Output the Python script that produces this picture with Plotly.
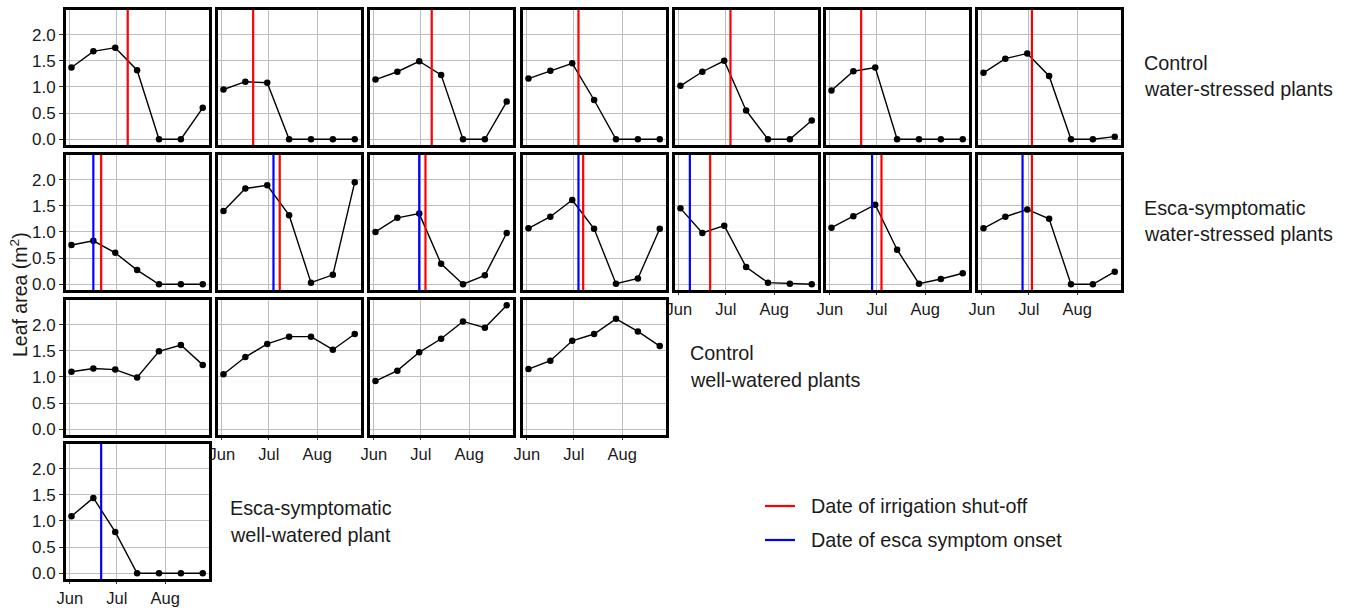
import plotly.graph_objects as go

# ---------------- data ----------------
dates = ["2021-06-02", "2021-06-16", "2021-06-30", "2021-07-14",
         "2021-07-28", "2021-08-11", "2021-08-25"]

# Control water-stressed plants (7 plants)
ctrl_ws = [
    [1.37, 1.68, 1.75, 1.32, 0.00, 0.00, 0.60],
    [0.95, 1.10, 1.08, 0.00, 0.00, 0.00, 0.00],
    [1.14, 1.29, 1.49, 1.23, 0.00, 0.00, 0.72],
    [1.16, 1.31, 1.45, 0.75, 0.00, 0.00, 0.00],
    [1.02, 1.29, 1.50, 0.55, 0.00, 0.00, 0.36],
    [0.93, 1.30, 1.37, 0.00, 0.00, 0.00, 0.00],
    [1.27, 1.54, 1.64, 1.21, 0.00, 0.00, 0.05],
]
ctrl_ws_shutoff = ["2021-07-08", "2021-06-21", "2021-07-08", "2021-07-04",
                   "2021-07-04", "2021-06-21", "2021-07-03"]

# Esca-symptomatic water-stressed plants (7 plants)
esca_ws = [
    [0.75, 0.83, 0.60, 0.27, 0.00, 0.00, 0.00],
    [1.40, 1.83, 1.89, 1.32, 0.03, 0.18, 1.95],
    [1.00, 1.27, 1.35, 0.39, 0.00, 0.17, 0.98],
    [1.07, 1.29, 1.61, 1.06, 0.01, 0.11, 1.06],
    [1.45, 0.98, 1.12, 0.33, 0.03, 0.01, 0.00],
    [1.08, 1.30, 1.52, 0.66, 0.01, 0.10, 0.21],
    [1.07, 1.29, 1.43, 1.25, 0.00, 0.00, 0.24],
]
esca_ws_shutoff = ["2021-06-21", "2021-07-08", "2021-07-04", "2021-07-07",
                   "2021-06-21", "2021-07-04", "2021-07-03"]
esca_ws_onset = ["2021-06-16", "2021-07-04", "2021-06-30", "2021-07-04",
                 "2021-06-08", "2021-06-28", "2021-06-27"]

# Control well-watered plants (4 plants)
ctrl_ww = [
    [1.10, 1.16, 1.14, 0.99, 1.49, 1.61, 1.23],
    [1.05, 1.38, 1.63, 1.77, 1.77, 1.52, 1.82],
    [0.92, 1.12, 1.47, 1.73, 2.06, 1.94, 2.37],
    [1.15, 1.31, 1.69, 1.82, 2.11, 1.87, 1.59],
]

# Esca-symptomatic well-watered plant (1 plant)
esca_ww = [[1.09, 1.44, 0.79, 0.00, 0.00, 0.00, 0.00]]
esca_ww_onset = ["2021-06-21"]

month_ticks = ["2021-06-01", "2021-07-01", "2021-08-01"]
month_labels = ["Jun", "Jul", "Aug"]
y_ticks = [0, 0.5, 1.0, 1.5, 2.0]
y_labels = ["0.0", "0.5", "1.0", "1.5", "2.0"]

group_labels = [
    ("Control", "water-stressed plants"),
    ("Esca-symptomatic", "water-stressed plants"),
    ("Control", "well-watered plants"),
    ("Esca-symptomatic", "well-watered plant"),
]
legend_labels = ["Date of irrigation shut-off", "Date of esca symptom onset"]

# ---------------- layout helpers ----------------
W, H = 1359, 608
RED, BLUE = "#ff0000", "#0000ff"
FONT = "Liberation Sans, Arial, sans-serif"
col_left = [66, 218, 370, 523, 675, 826, 978]
row_top = [10, 155, 300, 444]
PW, PH = 143, 135
X_RANGE = ["2021-05-29 12:00", "2021-08-29 00:00"]
Y_RANGE = [-0.11, 2.47]


def px(x):
    return x / W


def py(y):
    return 1 - y / H


panels = []  # (row, col, values, shutoff, onset)
for i, v in enumerate(ctrl_ws):
    panels.append((0, i, v, ctrl_ws_shutoff[i], None))
for i, v in enumerate(esca_ws):
    panels.append((1, i, v, esca_ws_shutoff[i], esca_ws_onset[i]))
for i, v in enumerate(ctrl_ww):
    panels.append((2, i, v, None, None))
for i, v in enumerate(esca_ww):
    panels.append((3, i, v, None, esca_ww_onset[i]))

# which panels show x tick labels (bottom of each column)
xlabel_panels = {(1, 4), (1, 5), (1, 6), (2, 1), (2, 2), (2, 3), (3, 0)}

fig = go.Figure()
layout = dict(
    width=W, height=H,
    margin=dict(l=0, r=0, t=0, b=0),
    paper_bgcolor="white", plot_bgcolor="white",
    showlegend=False,
    font=dict(family=FONT, color="#1a1a1a"),
)
shapes = []
annotations = []

for k, (r, c, vals, shut, onset) in enumerate(panels, start=1):
    xa = "x" if k == 1 else f"x{k}"
    ya = "y" if k == 1 else f"y{k}"
    x0 = col_left[c]
    y0 = row_top[r]
    show_x = (r, c) in xlabel_panels
    show_y = c == 0
    layout["xaxis" if k == 1 else f"xaxis{k}"] = dict(
        domain=[px(x0), px(x0 + PW)],
        anchor=ya, type="date", range=X_RANGE,
        tickvals=month_ticks, ticktext=month_labels,
        showticklabels=show_x, ticks="outside" if show_x else "",
        ticklen=2, tickcolor="#333333", tickwidth=1,
        tickfont=dict(size=16.5, color="#1a1a1a", family=FONT),
        showgrid=True, gridcolor="#bdbdbd", gridwidth=1.3,
        showline=True, linecolor="black", linewidth=3, mirror=True,
        zeroline=False, fixedrange=True, automargin=False,
    )
    layout["yaxis" if k == 1 else f"yaxis{k}"] = dict(
        domain=[py(y0 + PH), py(y0)],
        anchor=xa, range=Y_RANGE,
        tickvals=y_ticks, ticktext=y_labels,
        showticklabels=show_y, ticks="outside" if show_y else "",
        ticklen=4, tickcolor="#333333", tickwidth=1,
        tickfont=dict(size=17, color="#1a1a1a", family=FONT),
        showgrid=True, gridcolor="#bdbdbd", gridwidth=1.3,
        showline=True, linecolor="black", linewidth=3, mirror=True,
        zeroline=False, fixedrange=True, automargin=False,
    )
    fig.add_trace(go.Scatter(
        x=dates, y=vals, mode="lines+markers",
        line=dict(color="black", width=1.4),
        marker=dict(color="black", size=6.5),
        xaxis=xa, yaxis=ya, hoverinfo="x+y",
    ))
    for d, colr in ((onset, BLUE), (shut, RED)):
        if d is None:
            continue
        shapes.append(dict(
            type="line", xref=xa, yref=f"{ya} domain",
            x0=d, x1=d, y0=0, y1=1, layer="above",
            line=dict(color=colr, width=2.2),
        ))

# group labels (two lines each)
label_pos = [(1142, 63, 89), (1142, 208, 234), (688, 353, 380), (228, 508, 535)]
for (l1, l2), (lx, ly1, ly2) in zip(group_labels, label_pos):
    for txt, yy in ((l1, ly1), (l2, ly2)):
        annotations.append(dict(
            text=txt, x=px(lx), y=py(yy), xref="paper", yref="paper",
            xanchor="left", yanchor="middle", showarrow=False,
            font=dict(size=19.8, family=FONT, color="#1a1a1a"),
        ))

# y-axis title
annotations.append(dict(
    text="Leaf area (m<sup>2</sup>)", x=px(19), y=py(295),
    xref="paper", yref="paper", textangle=-90,
    xanchor="center", yanchor="middle", showarrow=False,
    font=dict(size=19.5, family=FONT, color="#1a1a1a"),
))

# legend
for (txt, colr, yy) in ((legend_labels[0], RED, 506), (legend_labels[1], BLUE, 540)):
    shapes.append(dict(
        type="line", xref="paper", yref="paper",
        x0=px(765), x1=px(795), y0=py(yy), y1=py(yy),
        line=dict(color=colr, width=2.2),
    ))
    annotations.append(dict(
        text=txt, x=px(809), y=py(yy), xref="paper", yref="paper",
        xanchor="left", yanchor="middle", showarrow=False,
        font=dict(size=19.8, family=FONT, color="#1a1a1a"),
    ))

layout["shapes"] = shapes
layout["annotations"] = annotations
fig.update_layout(**layout)

fig.write_html("out.html")
